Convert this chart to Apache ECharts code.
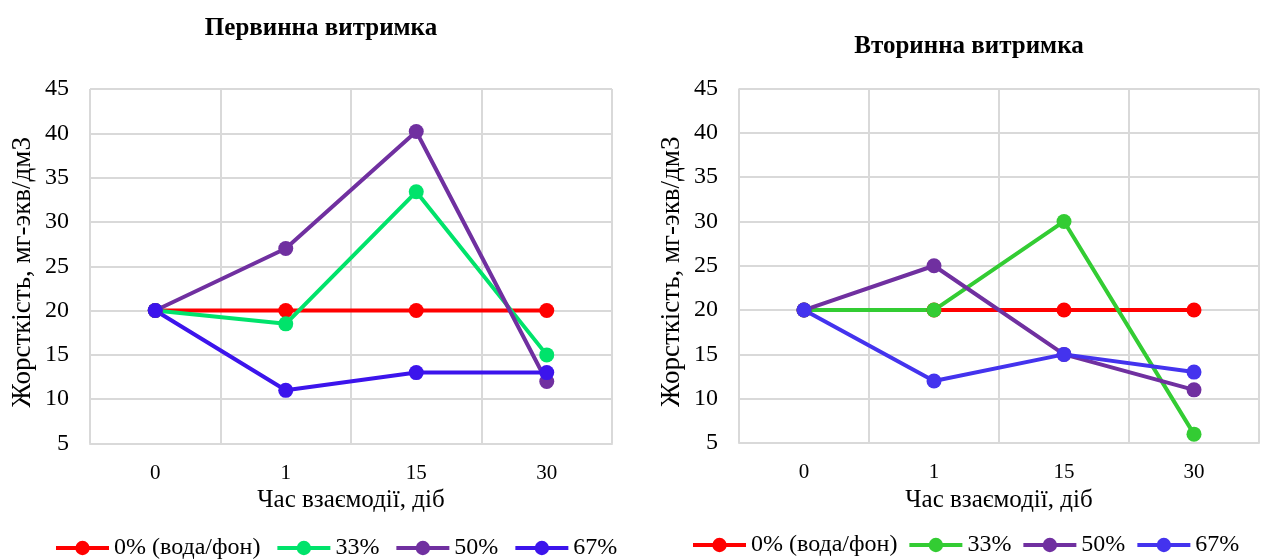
<!DOCTYPE html>
<html>
<head>
<meta charset="utf-8">
<script src="https://cdn.jsdelivr.net/npm/echarts@6/dist/echarts.min.js"></script>
<style>
html,body{margin:0;padding:0;background:#fff;}
#c{width:1261px;height:560px;}
</style>
</head>
<body>
<div id="c"></div>
<script>
// ---- data ----
const categories = ['0', '1', '15', '30'];
const seriesNames = ['0% (вода/фон)', '33%', '50%', '67%'];
const titleLeft = 'Первинна витримка';
const titleRight = 'Вторинна витримка';
const xAxisName = 'Час взаємодії, діб';
const yAxisName = 'Жорсткість, мг-экв/дм3';

// Primary ageing (left)
const left0 = [20, 20, 20, 20];
const left33 = [20, 18.5, 33.4, 15];
const left50 = [20, 27, 40.2, 12];
const left67 = [20, 11, 13, 13];

// Secondary ageing (right)
const right0 = [20, 20, 20, 20];
const right33 = [20, 20, 30, 6];
const right50 = [20, 25, 15, 11];
const right67 = [20, 12, 15, 13];

const yMin = 5, yMax = 45, yInterval = 5;

// ---- styles ----
const leftColors = ['#FF0000', '#00E36B', '#7030A0', '#3C14EC'];
const rightColors = ['#FF0000', '#33CC33', '#7030A0', '#4433EE'];
const FONT = "'Liberation Serif', 'Times New Roman', serif";
const GRID_COLOR = '#D9D9D9';

const chart = echarts.init(document.getElementById('c'), null, {renderer: 'canvas'});

function xAxis(gi) {
  return {
    type: 'category', gridIndex: gi, data: categories, boundaryGap: true,
    axisTick: {show: false},
    axisLine: {show: true, lineStyle: {color: GRID_COLOR, width: 2}},
    splitLine: {show: true, lineStyle: {color: GRID_COLOR, width: 2}},
    axisLabel: {fontFamily: FONT, fontSize: 21, color: '#000', margin: 19},
    name: xAxisName, nameLocation: 'middle', nameGap: 41,
    nameTextStyle: {fontFamily: FONT, fontSize: 25, color: '#000'}
  };
}
function yAxis(gi) {
  return {
    type: 'value', gridIndex: gi, min: yMin, max: yMax, interval: yInterval,
    axisLine: {show: false}, axisTick: {show: false},
    splitLine: {show: true, lineStyle: {color: GRID_COLOR, width: 2}},
    axisLabel: {fontFamily: FONT, fontSize: 24, color: '#000', margin: 21},
    name: yAxisName, nameLocation: 'middle', nameGap: 54,
    nameTextStyle: {fontFamily: FONT, fontSize: 27, color: '#000', padding: [0, 12, 0, 0]}
  };
}
function mkSeries(name, data, color, gi) {
  return {
    type: 'line', name: name, data: data, xAxisIndex: gi, yAxisIndex: gi,
    symbol: 'circle', symbolSize: 15,
    lineStyle: {color: color, width: 4},
    itemStyle: {color: color},
    emphasis: {disabled: true},
    animation: false
  };
}
function legendData(colors) {
  return seriesNames.map((n, i) => ({
    name: n,
    itemStyle: {color: colors[i]},
    lineStyle: {color: colors[i], width: 4}
  }));
}

const leftData = [left0, left33, left50, left67];
const rightData = [right0, right33, right50, right67];

const series = [];
leftData.forEach((d, i) => series.push(mkSeries(seriesNames[i], d, leftColors[i], 0)));
rightData.forEach((d, i) => series.push(mkSeries(seriesNames[i], d, rightColors[i], 1)));

chart.setOption({
  backgroundColor: '#fff',
  animation: false,
  title: [
    {text: titleLeft, left: 316, top: 11, textAlign: 'center',
     textStyle: {fontFamily: FONT, fontSize: 25, fontWeight: 'bold', color: '#000'}},
    {text: titleRight, left: 964, top: 29, textAlign: 'center',
     textStyle: {fontFamily: FONT, fontSize: 25, fontWeight: 'bold', color: '#000'}}
  ],
  grid: [
    {left: 90, top: 89, width: 522, height: 354.5},
    {left: 739, top: 88.5, width: 520, height: 354.5}
  ],
  xAxis: [xAxis(0), xAxis(1)],
  yAxis: [yAxis(0), yAxis(1)],
  legend: [
    {left: 54, top: 536, padding: 0, itemWidth: 53, itemHeight: 18, itemGap: 15, selectedMode: false,
     data: legendData(leftColors),
     textStyle: {fontFamily: FONT, fontSize: 24, color: '#000'}},
    {left: 691, top: 533, padding: 0, itemWidth: 53, itemHeight: 18, itemGap: 10, selectedMode: false,
     data: legendData(rightColors),
     textStyle: {fontFamily: FONT, fontSize: 24, color: '#000'}}
  ],
  series: series
});
</script>
</body>
</html>
